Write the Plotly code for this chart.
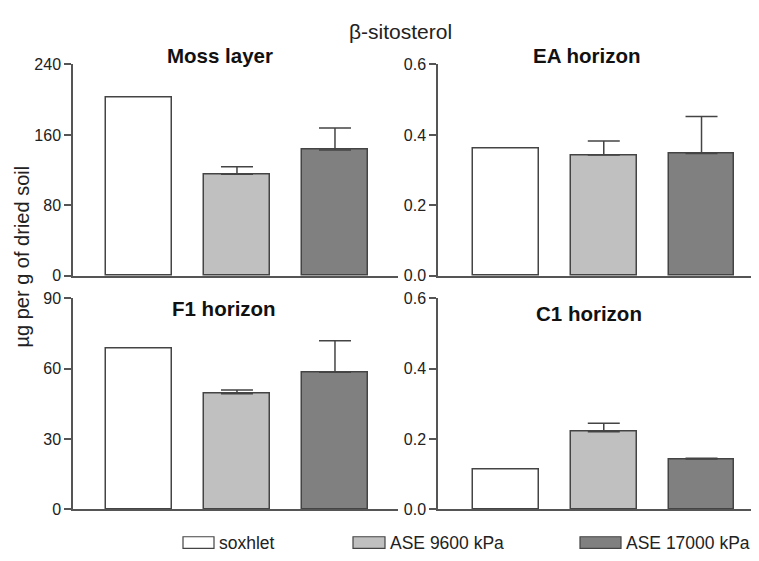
import plotly.graph_objects as go

# ---- data ----
methods = ["soxhlet", "ASE 9600 kPa", "ASE 17000 kPa"]
method_colors = ["#ffffff", "#c0c0c0", "#808080"]
panels = ["Moss layer", "EA horizon", "F1 horizon", "C1 horizon"]

moss_mean = [203, 115.5, 143]
moss_err = [0, 8.5, 25]
ea_mean = [0.362, 0.343, 0.347]
ea_err = [0, 0.040, 0.105]
f1_mean = [68.6, 49.3, 58.5]
f1_err = [0, 1.6, 13.4]
c1_mean = [0.114, 0.221, 0.143]
c1_err = [0, 0.024, 0.002]

y_ranges = [[0, 240], [0, 0.6], [0, 90], [0, 0.6]]
y_ticks = [[0, 80, 160, 240], [0, 0.2, 0.4, 0.6], [0, 30, 60, 90], [0, 0.2, 0.4, 0.6]]

means = [moss_mean, ea_mean, f1_mean, c1_mean]
errs = [moss_err, ea_err, f1_err, c1_err]

W, H = 759, 561
OFF = 8  # page body margin offset of the plot div
FONT = "Arial, Liberation Sans, sans-serif"


def px_x(x):
    return (x - OFF) / W


def px_y(y):
    return 1 - (y - OFF) / H


# axis layout in screen pixels (left, right, top, bottom)
px_boxes = [(73, 398, 58, 276), (438, 759, 58, 276),
            (73, 398, 299.3, 516.7), (438, 759, 299.3, 516.7)]
x_ranges = [[-0.673, 2.643], [-0.696, 2.588], [-0.673, 2.643], [-0.696, 2.588]]
title_pos = [(220, 49), (586, 49), (224, 310), (589, 315)]

fig = go.Figure()

for p in range(4):
    sfx = "" if p == 0 else str(p + 1)
    for m in range(3):
        fig.add_trace(go.Bar(
            x=[m], y=[means[p][m]],
            width=0.673,
            marker=dict(color=method_colors[m], line=dict(color="#444444", width=1.5)),
            error_y=dict(type="data", symmetric=False, array=[errs[p][m]], arrayminus=[0],
                         color="#444444", thickness=1.5, width=16,
                         visible=errs[p][m] > 0),
            name=methods[m],
            showlegend=False,
            xaxis="x" + sfx, yaxis="y" + sfx,
        ))

layout = dict(
    width=W, height=H,
    margin=dict(l=0, r=0, t=0, b=0),
    paper_bgcolor="white", plot_bgcolor="white",
    font=dict(family=FONT, color="#222222", size=16),
    showlegend=False,
    bargap=0,
)

for p in range(4):
    sfx = "" if p == 0 else str(p + 1)
    l, r, t, b = px_boxes[p]
    layout["xaxis" + sfx] = dict(
        domain=[px_x(l), px_x(r)], range=x_ranges[p], anchor="y" + sfx,
        showticklabels=False, ticks="", showgrid=False, zeroline=False,
        showline=True, linecolor="#555555", linewidth=1.5, fixedrange=True,
    )
    layout["yaxis" + sfx] = dict(
        domain=[px_y(b), px_y(t)], range=y_ranges[p], anchor="x" + sfx,
        tickvals=y_ticks[p], ticks="outside", ticklen=7, tickcolor="#555555",
        tickwidth=1.5, tickformat=".1f" if y_ranges[p][1] < 1 else "d",
        showgrid=False, zeroline=False, showline=True, linecolor="#555555",
        linewidth=1.5, tickfont=dict(size=16, color="#222222"), fixedrange=True,
    )

fig.update_layout(**layout)

# main title
fig.add_annotation(text="β-sitosterol", x=px_x(400), y=px_y(24), xref="paper", yref="paper",
                   xanchor="center", yanchor="middle", showarrow=False,
                   font=dict(family=FONT, size=21, color="#222222"))
for p in range(4):
    tx, ty = title_pos[p]
    fig.add_annotation(text="<b>" + panels[p] + "</b>", x=px_x(tx), y=px_y(ty),
                       xref="paper", yref="paper", xanchor="center", yanchor="middle",
                       showarrow=False, font=dict(family=FONT, size=20.5, color="#111111"))

fig.add_annotation(text="µg per g of dried soil", x=px_x(22), y=px_y(256),
                   xref="paper", yref="paper", textangle=-90, showarrow=False,
                   xanchor="center", yanchor="middle",
                   font=dict(family=FONT, size=20, color="#222222"))

# legend (swatches + labels)
leg_boxes = [(183, 214), (353, 385), (580, 621)]
leg_y0, leg_y1 = 545, 557
for m in range(3):
    x0, x1 = leg_boxes[m]
    fig.add_shape(type="rect", xref="paper", yref="paper",
                  x0=px_x(x0), x1=px_x(x1), y0=px_y(leg_y1), y1=px_y(leg_y0),
                  fillcolor=method_colors[m], line=dict(color="#444444", width=1.2))
    fig.add_annotation(text=methods[m], x=px_x(x1 + 3), y=px_y(551),
                       xref="paper", yref="paper", xanchor="left", yanchor="middle",
                       showarrow=False, font=dict(family=FONT, size=17.5, color="#222222"))

fig.write_html("out.html")
